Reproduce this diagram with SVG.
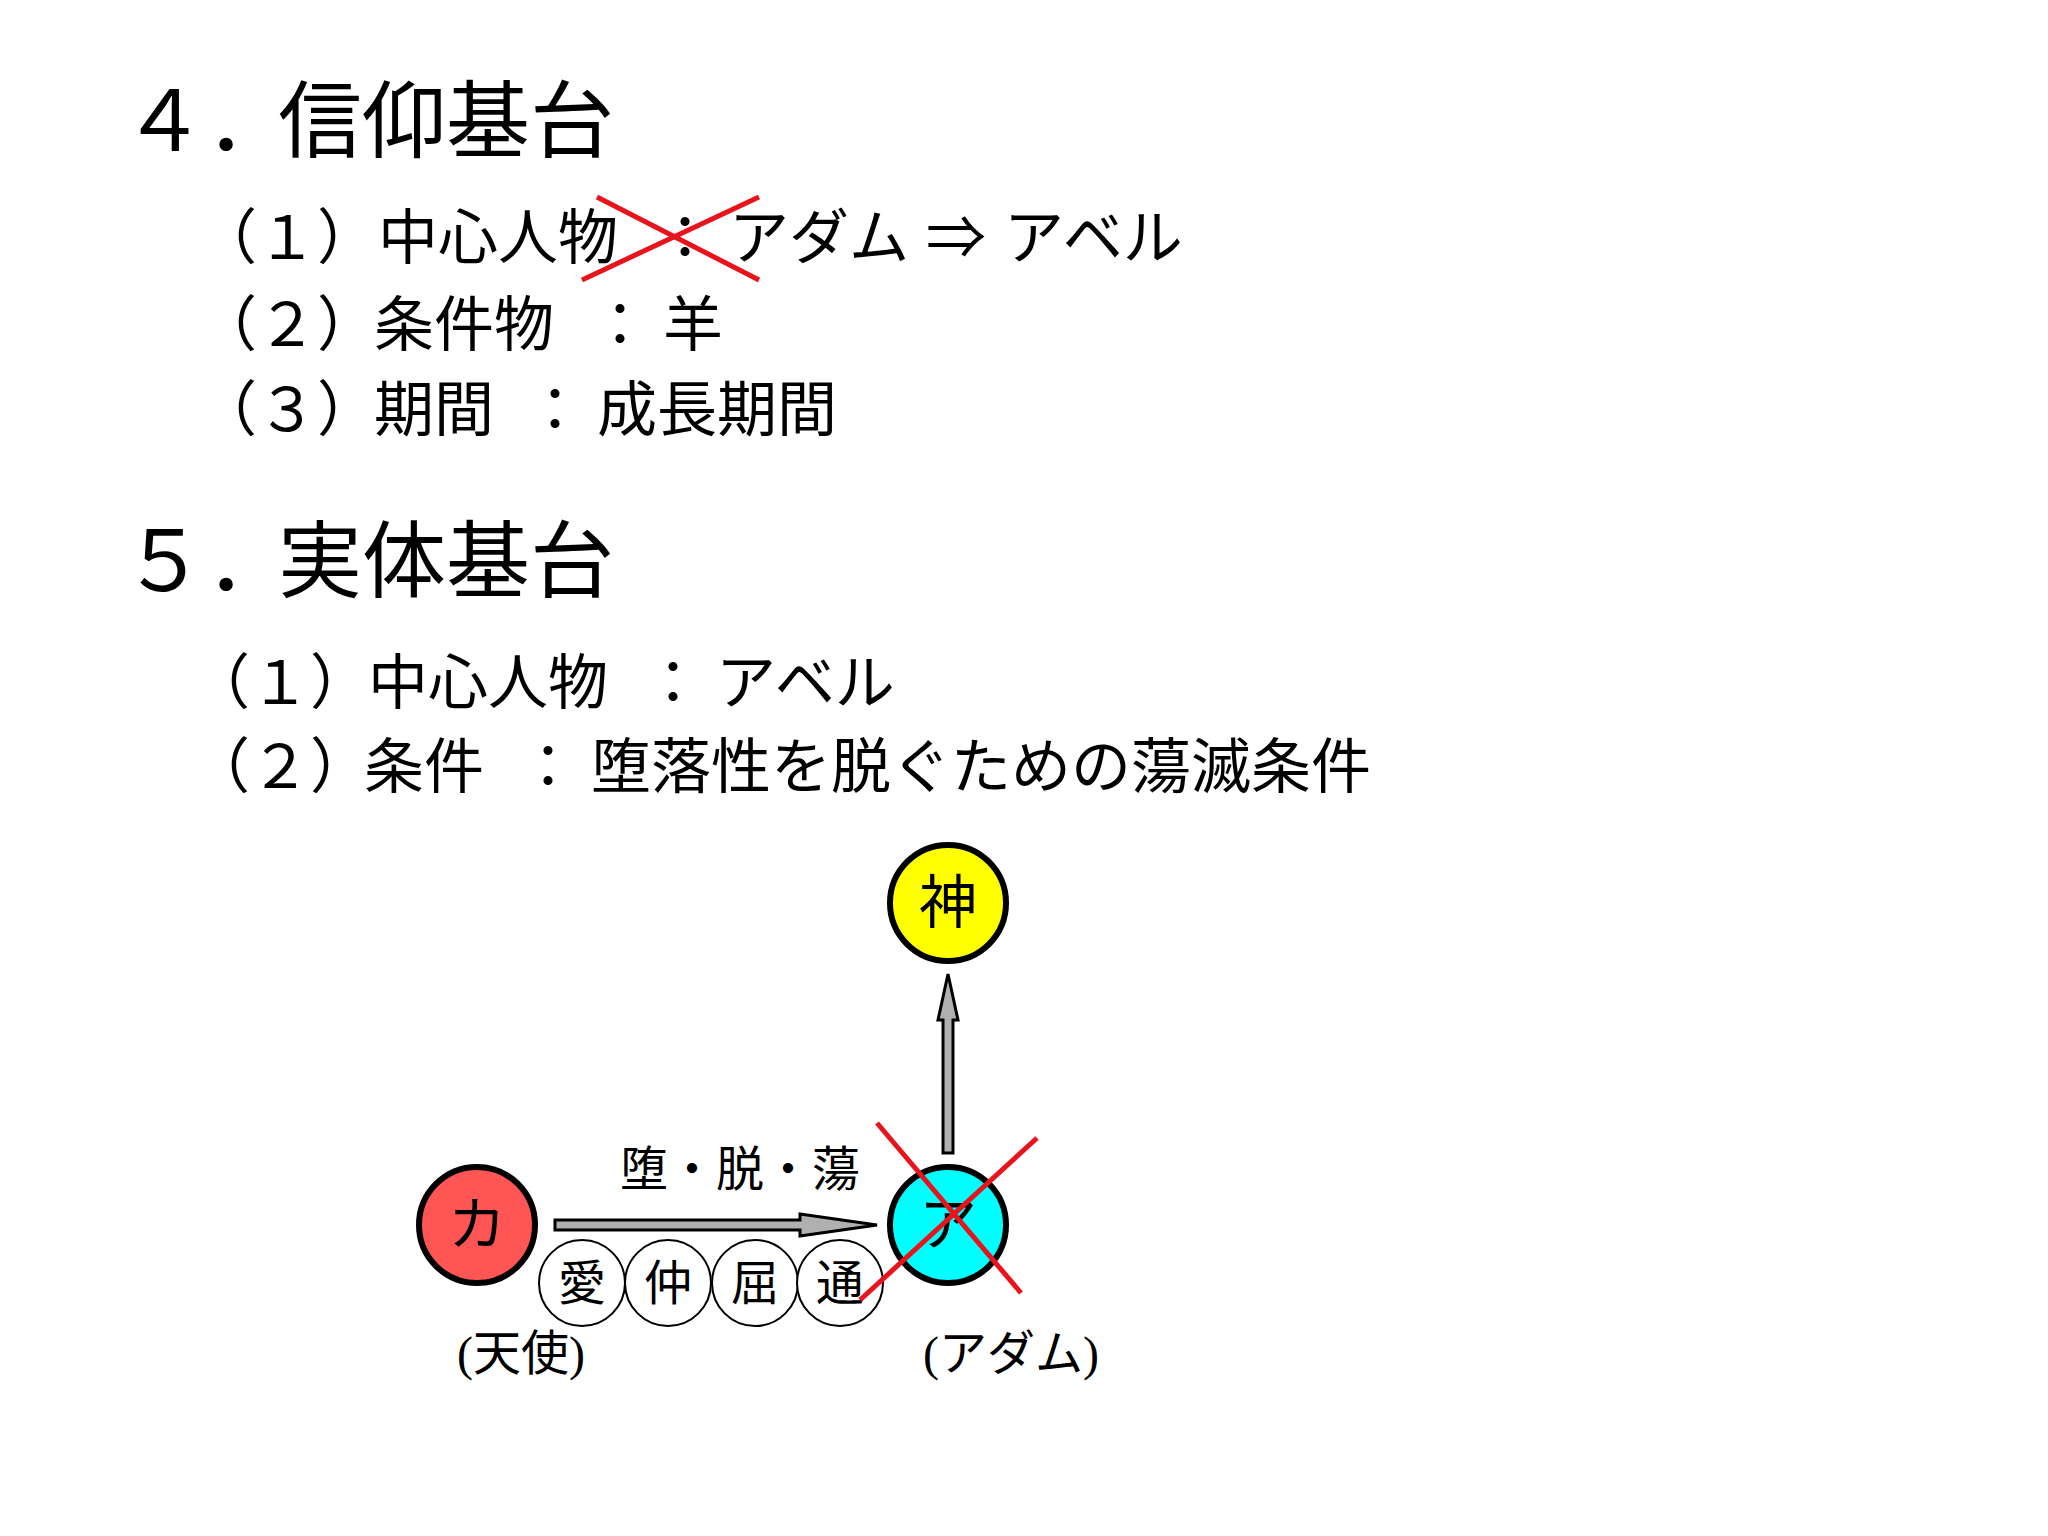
<svg xmlns="http://www.w3.org/2000/svg" width="2048" height="1536" viewBox="0 0 2048 1536">
<style>
text{font-family:"Liberation Serif","Noto Sans CJK JP",serif;fill:#000}
.h{font-size:84px}
.t{font-size:60px}
.n{font-size:58px;text-anchor:middle}
.s{font-size:48px;text-anchor:middle}
.x{stroke:#e8141c;stroke-width:5;fill:none}
.arr{fill:#b0b0b0;stroke:#000;stroke-width:3}
</style>
<rect width="2048" height="1536" fill="#fff"/>
<g class="h"><text x="122" y="151">４．</text><text x="278" y="151">信仰基台</text></g>
<g class="t">
<text x="197" y="259">（１）</text><text x="378" y="259">中心人物</text><text x="655" y="259">：</text><text x="729" y="259">アダム</text><text x="926" y="259">⇒</text><text x="1004" y="259">アベル</text>
<text x="197" y="346">（２）</text><text x="374" y="346">条件物</text><text x="590" y="346">：</text><text x="663" y="346">羊</text>
<text x="197" y="431">（３）</text><text x="374" y="431">期間</text><text x="525" y="431">：</text><text x="597" y="431">成長期間</text>
</g>
<line class="x" x1="582" y1="280" x2="759" y2="197"/>
<line class="x" x1="597" y1="197" x2="759" y2="280"/>
<g class="h"><text x="122" y="591">５．</text><text x="278" y="591">実体基台</text></g>
<g class="t">
<text x="190" y="704">（１）</text><text x="368" y="704">中心人物</text><text x="643" y="704">：</text><text x="716" y="704">アベル</text>
<text x="190" y="788">（２）</text><text x="364" y="788">条件</text><text x="518" y="788">：</text><text x="591" y="788">堕落性を脱ぐための蕩滅条件</text>
</g>
<g id="connectors">
<polygon class="arr" points="555,1220 800,1220 800,1214 877,1225 800,1236 800,1230 555,1230"/>
<polygon class="arr" points="943,1153 943,1020 938,1020 948,974 958,1020 953,1020 953,1153"/>
</g>
<g id="god"><circle cx="948" cy="903" r="58" fill="#ffff00" stroke="#000" stroke-width="6"/><text class="n" x="948" y="923">神</text></g>
<g id="ka"><circle cx="477" cy="1225" r="58" fill="#ff5555" stroke="#000" stroke-width="6"/><text class="n" x="477" y="1245">カ</text></g>
<g id="a"><circle cx="948" cy="1225" r="58" fill="#00ffff" stroke="#000" stroke-width="6"/><text class="n" x="948" y="1245">ア</text></g>
<g id="small">
<circle cx="582" cy="1283" r="43" fill="#fff" stroke="#000" stroke-width="2"/><text class="s" x="582" y="1300">愛</text>
<circle cx="668" cy="1283" r="43" fill="#fff" stroke="#000" stroke-width="2"/><text class="s" x="668" y="1300">仲</text>
<circle cx="755" cy="1283" r="43" fill="#fff" stroke="#000" stroke-width="2"/><text class="s" x="755" y="1300">屈</text>
<circle cx="840" cy="1283" r="43" fill="#fff" stroke="#000" stroke-width="2"/><text class="s" x="840" y="1300">通</text>
</g>
<text class="s" x="740" y="1186" font-size="50">堕・脱・蕩</text>
<text class="s" x="521" y="1370" font-size="56">(天使)</text>
<text class="s" x="1011" y="1370" font-size="56">(アダム)</text>
<line class="x" x1="877" y1="1123" x2="1021" y2="1293"/>
<line class="x" x1="1037" y1="1138" x2="860" y2="1300"/>
</svg>
